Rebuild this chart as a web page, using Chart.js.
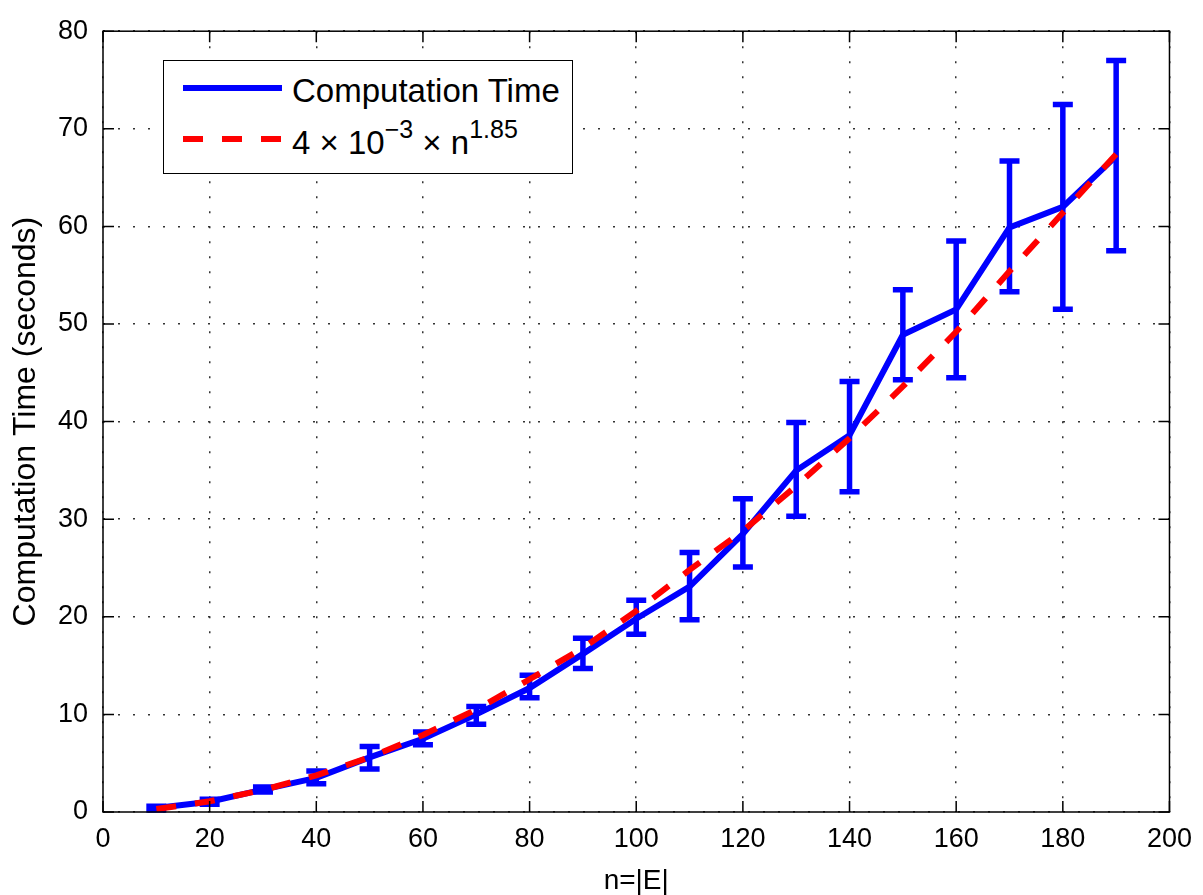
<!DOCTYPE html>
<html>
<head>
<meta charset="utf-8">
<script src="https://cdn.jsdelivr.net/npm/chart.js@4.4.1/dist/chart.umd.min.js"></script>
<style>
  html, body { margin: 0; padding: 0; background: #fff; }
  #wrap { position: relative; width: 1203px; height: 895px; }
  #legend {
    position: absolute; left: 163px; top: 60px; width: 410px; height: 114px;
    box-sizing: border-box; border: 1.5px solid #000; background: #fff;
    font-family: 'Liberation Sans', Arial, sans-serif; font-size: 33px; color: #000;
  }
  .sample { position: absolute; left: 18.5px; }
  .label { position: absolute; left: 128px; line-height: 1; white-space: nowrap; }
  .sup { font-size: 25px; position: relative; top: -16px; }
</style>
</head>
<body>
<div id="wrap">
  <canvas id="chart" width="1203" height="895"></canvas>
  <div id="legend">
    <svg class="sample" style="top:21.5px" width="100" height="10">
      <line x1="0" y1="5" x2="99" y2="5" stroke="#0000ff" stroke-width="6"/>
    </svg>
    <div class="label" style="top:13px">Computation Time</div>
    <svg class="sample" style="top:72.5px" width="100" height="10">
      <line x1="0" y1="5" x2="99" y2="5" stroke="#ff0000" stroke-width="6" stroke-dasharray="20 19"/>
    </svg>
    <div class="label" style="top:65px">4 × 10<span class="sup">−3</span> × n<span class="sup">1.85</span></div>
  </div>
</div>
<script>
// valores
const nValues = [10, 20, 30, 40, 50, 60, 70, 80, 90, 100, 110, 120, 130, 140, 150, 160, 170, 180, 190];
const timeMean = [0.4, 1.05, 2.3, 3.5, 5.6, 7.5, 10.0, 12.7, 16.2, 19.8, 23.1, 28.5, 35.0, 38.6, 48.9, 51.5, 59.9, 62.0, 67.2];
const timeLow = [0.2, 0.8, 2.05, 2.9, 4.4, 6.9, 9.0, 11.7, 14.7, 18.2, 19.7, 25.1, 30.3, 32.8, 44.3, 44.5, 53.3, 51.5, 57.5];
const timeHigh = [0.6, 1.3, 2.55, 4.2, 6.7, 8.2, 10.8, 14.0, 17.8, 21.7, 26.6, 32.1, 39.9, 44.1, 53.5, 58.5, 66.7, 72.5, 77.0];
const fitValues = [0.3, 1.1, 2.25, 3.75, 5.6, 7.9, 10.5, 13.6, 16.8, 20.6, 24.8, 28.8, 33.4, 38.3, 43.6, 49.2, 55.4, 61.4, 67.4];

const xTicks = { min: 0, max: 200, step: 20 };
const yTicks = { min: 0, max: 80, step: 10 };

const fontFamily = "'Liberation Sans', Arial, sans-serif";

// barras de error, dibujadas antes de las lineas
const errorBarPlugin = {
    id: 'errorBars',
    beforeDatasetsDraw(chart) {
        const { ctx, scales: { x, y } } = chart;
        ctx.save();
        ctx.strokeStyle = '#0000ff';
        ctx.lineWidth = 5.5;
        ctx.lineCap = 'butt';
        nValues.forEach((n, i) => {
            const px = x.getPixelForValue(n);
            const top = y.getPixelForValue(timeHigh[i]);
            const bot = y.getPixelForValue(timeLow[i]);
            ctx.beginPath();
            ctx.moveTo(px, top); ctx.lineTo(px, bot);
            ctx.moveTo(px - 10, top); ctx.lineTo(px + 10, top);
            ctx.moveTo(px - 10, bot); ctx.lineTo(px + 10, bot);
            ctx.stroke();
        });
        ctx.restore();
    }
};

// marco y marcas hacia dentro (estilo MATLAB)
const framePlugin = {
    id: 'frame',
    afterDraw(chart) {
        const { ctx, chartArea: a, scales: { x, y } } = chart;
        const len = 11;
        ctx.save();
        ctx.strokeStyle = '#000';
        ctx.lineWidth = 1.5;
        ctx.strokeRect(a.left, a.top, a.right - a.left, a.bottom - a.top);
        ctx.beginPath();
        x.ticks.forEach(t => {
            const px = x.getPixelForValue(t.value);
            ctx.moveTo(px, a.bottom); ctx.lineTo(px, a.bottom - len);
            ctx.moveTo(px, a.top); ctx.lineTo(px, a.top + len);
        });
        y.ticks.forEach(t => {
            const py = y.getPixelForValue(t.value);
            ctx.moveTo(a.left, py); ctx.lineTo(a.left + len, py);
            ctx.moveTo(a.right, py); ctx.lineTo(a.right - len, py);
        });
        ctx.stroke();
        ctx.restore();
    }
};

const ctx = document.getElementById('chart').getContext('2d');
new Chart(ctx, {
    type: 'line',
    data: {
        datasets: [{
            label: 'Computation Time',
            data: nValues.map((n, i) => ({ x: n, y: timeMean[i] })),
            borderColor: '#0000ff',
            borderWidth: 6,
            pointRadius: 0,
            tension: 0,
            fill: false,
            order: 2
        }, {
            label: '4 × 10^-3 × n^1.85',
            data: nValues.map((n, i) => ({ x: n, y: fitValues[i] })),
            borderColor: '#ff0000',
            borderWidth: 6,
            borderDash: [20, 19],
            borderCapStyle: 'butt',
            pointRadius: 0,
            tension: 0,
            fill: false,
            order: 1
        }]
    },
    options: {
        responsive: false,
        animation: false,
        devicePixelRatio: 1,
        layout: { padding: { top: 20, right: 33, bottom: 0, left: 0 } },
        plugins: { legend: { display: false }, tooltip: { enabled: false } },
        scales: {
            x: {
                type: 'linear',
                min: xTicks.min, max: xTicks.max,
                ticks: { stepSize: xTicks.step, color: '#000', font: { family: fontFamily, size: 27 }, padding: 11, maxRotation: 0, autoSkip: false },
                grid: { color: '#333', lineWidth: 1.5, drawTicks: false },
                border: { display: false, dash: [2, 13] },
                title: { display: true, text: 'n=|E|', color: '#000', font: { family: fontFamily, size: 28, lineHeight: 1 }, padding: 0 },
                afterFit: s => { s.height = 83; }
            },
            y: {
                min: yTicks.min, max: yTicks.max,
                ticks: { stepSize: yTicks.step, color: '#000', font: { family: fontFamily, size: 27 }, padding: 15 },
                grid: { color: '#333', lineWidth: 1.5, drawTicks: false },
                border: { display: false, dash: [2, 13] },
                title: { display: true, text: 'Computation Time (seconds)', color: '#000', font: { family: fontFamily, size: 32, lineHeight: 1 }, padding: { top: 10, bottom: 0 } },
                afterFit: s => { s.width = 103; }
            }
        }
    },
    plugins: [errorBarPlugin, framePlugin]
});
</script>
</body>
</html>
